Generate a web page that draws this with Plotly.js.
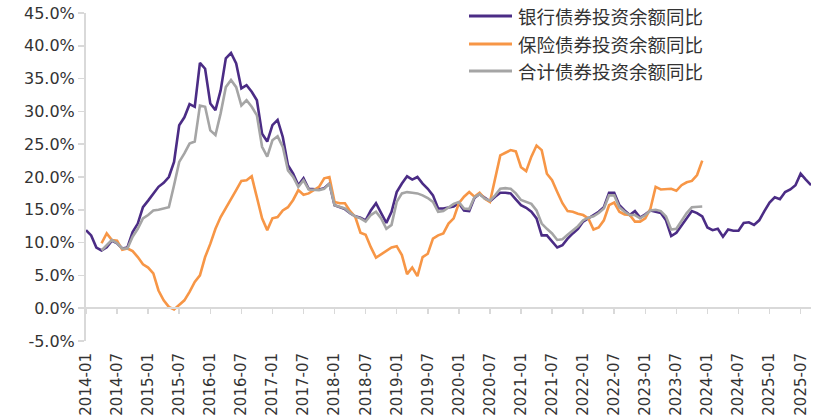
<!DOCTYPE html>
<html>
<head>
<meta charset="utf-8">
<script src="https://cdn.plot.ly/plotly-3.0.1.min.js"></script>
<style>
  html, body { margin: 0; padding: 0; background: #ffffff; }
  #chart { width: 834px; height: 419px; }
</style>
</head>
<body>
<div id="chart"></div>
<script>
// ---- Data ----
const firstMonth = [2014, 1];
const lastMonth = [2025, 9];

const seriesNames = ['银行债券投资余额同比', '保险债券投资余额同比', '合计债券投资余额同比'];

// Bank bond holdings YoY (%), 2014-01 .. 2025-09
const bankYoY = [
  11.9, 11.1, 9.25, 8.8, 9.3, 10.3, 9.9, 9.1, 9.25, 11.6, 12.9, 15.4,
  16.4, 17.5, 18.5, 19.1, 20.0, 22.3, 27.9, 29.1, 31.1, 30.7, 37.4, 36.5,
  31.2, 30.2, 33.2, 38.1, 38.9, 37.3, 33.5, 34.0, 33.0, 31.7, 26.6, 25.4,
  27.9, 28.7, 26.1, 21.8, 20.5, 18.75, 19.8, 18.2, 18.1, 18.1, 18.3, 19.0,
  15.7, 15.4, 15.1, 14.5, 14.0, 13.8, 13.4, 14.9, 16.0, 14.5, 13.0, 14.7,
  17.7, 19.0, 20.1, 19.6, 20.0, 19.0, 18.2, 17.2, 15.2, 15.2, 15.3, 15.5,
  16.0, 14.9, 14.8, 16.8, 17.4, 16.8, 16.3, 17.0, 17.6, 17.6, 17.5, 16.6,
  15.7, 15.3, 14.7, 13.7, 11.1, 11.1, 10.1, 9.25, 9.6, 10.6, 11.4, 12.1,
  13.2, 13.7, 14.2, 14.7, 15.4, 17.6, 17.6, 15.7, 14.9, 14.2, 14.8, 13.8,
  14.3, 14.9, 14.7, 14.5, 13.4, 11.0, 11.5, 12.7, 13.7, 14.8, 14.5, 14.0,
  12.3, 11.9, 12.1, 10.9, 12.0, 11.8, 11.8, 13.0, 13.1, 12.7, 13.4, 14.8,
  16.1, 16.9, 16.6, 17.7, 18.1, 18.75, 20.5, 19.6, 18.75
];

// Insurance bond holdings YoY (%), 2014-04 .. 2023-12
const insuranceStart = '2014-04';
const insuranceYoY = [
  9.9, 11.4, 10.4, 10.3, 8.9, 9.1, 8.7, 7.8, 6.7,
  6.2, 5.3, 2.7, 1.2, 0.2, -0.2, 0.5, 1.2, 2.5, 4.0, 5.0, 7.8,
  9.8, 12.1, 13.9, 15.2, 16.5, 18.0, 19.4, 19.5, 20.1, 17.0, 13.7, 11.9,
  13.7, 13.9, 14.9, 15.4, 16.5, 18.0, 17.3, 17.5, 18.0, 18.5, 19.8, 20.0,
  16.2, 16.0, 16.0, 14.8, 13.9, 11.5, 11.2, 9.3, 7.7, 8.2, 8.7, 9.25,
  9.45, 8.1, 5.2, 6.2, 4.9, 7.8, 8.3, 10.6, 11.1, 11.4, 12.9, 13.7,
  16.0, 17.0, 17.7, 17.0, 17.6, 16.7, 16.2, 20.0, 23.3, 23.7, 24.1, 23.9,
  21.5, 20.9, 23.1, 24.8, 24.1, 20.5, 19.5, 17.7, 16.0, 14.8, 14.7, 14.4,
  14.2, 13.7, 12.0, 12.3, 13.4, 15.7, 16.1, 14.7, 14.3, 14.2, 13.2, 13.2,
  13.7, 15.2, 18.5, 18.1, 18.1, 18.2, 17.9, 18.75, 19.2, 19.4, 20.3, 22.5
];

// Total bond holdings YoY (%), 2014-04 .. 2023-12
const totalStart = '2014-04';
const totalYoY = [
  8.8, 9.6, 10.4, 9.9, 9.1, 9.1, 10.9, 12.1, 13.7,
  14.2, 14.9, 15.0, 15.2, 15.4, 18.75, 22.3, 23.6, 25.1, 25.4, 30.9, 30.7,
  27.1, 26.4, 29.7, 33.7, 34.8, 33.7, 30.9, 31.7, 30.7, 29.4, 24.6, 23.1,
  25.6, 26.2, 24.6, 21.0, 20.0, 18.5, 19.5, 18.1, 18.0, 18.0, 18.2, 19.0,
  15.7, 15.5, 15.2, 14.5, 14.0, 13.7, 13.2, 14.2, 14.7, 13.7, 12.1, 12.7,
  16.2, 17.5, 17.7, 17.6, 17.5, 17.2, 16.8, 16.2, 14.7, 14.8, 15.3, 15.9,
  16.2, 15.2, 15.1, 16.9, 17.4, 16.7, 16.4, 17.2, 18.2, 18.3, 18.2, 17.5,
  16.5, 16.2, 15.9, 14.9, 12.9, 12.1, 11.4, 10.4, 10.5, 11.2, 11.9, 12.5,
  13.4, 13.8, 14.0, 14.5, 15.2, 17.2, 17.2, 15.4, 14.7, 14.2, 14.2, 13.7,
  14.2, 14.9, 15.0, 14.8, 14.0, 12.0, 12.1, 13.4, 14.5, 15.4, 15.4, 15.5
];

const yTicks = [-5, 0, 5, 10, 15, 20, 25, 30, 35, 40, 45];

// ---- Category axis (months) ----
const months = [];
for (let y = firstMonth[0], m = firstMonth[1]; y < lastMonth[0] || (y === lastMonth[0] && m <= lastMonth[1]); ) {
  months.push(y + '-' + String(m).padStart(2, '0'));
  m++; if (m > 12) { m = 1; y++; }
}
const insIdx = months.indexOf(insuranceStart);
const totIdx = months.indexOf(totalStart);

const colors = ['#4b2c85', '#f79646', '#a5a5a5'];
const axisGray = '#d9d9d9';
const textColor = '#333333';
const tickFont = { family: 'DejaVu Sans', size: 15, color: textColor };
const yTickFont = { family: 'DejaVu Sans', size: 16, color: textColor };

const traces = [
  { x: months, y: bankYoY, name: seriesNames[0], type: 'scatter', mode: 'lines',
    line: { color: colors[0], width: 2.6 } },
  { x: months.slice(insIdx, insIdx + insuranceYoY.length), y: insuranceYoY, name: seriesNames[1],
    type: 'scatter', mode: 'lines', line: { color: colors[1], width: 2.6 } },
  { x: months.slice(totIdx, totIdx + totalYoY.length), y: totalYoY, name: seriesNames[2],
    type: 'scatter', mode: 'lines', line: { color: colors[2], width: 2.6 } },
  // helper trace so the zero-crossing tick axis is drawn
  { x: [0, months.length - 1], y: [null, null], xaxis: 'x2', yaxis: 'y', type: 'scatter',
    mode: 'lines', showlegend: false, hoverinfo: 'skip' }
];

// ---- Legend drawn as shapes + text (top right) ----
const W = 834, H = 419, ML = 86, MR = 23, MT = 13, MB = 78;
const pw = W - ML - MR, ph = H - MT - MB;
const px = v => (v - ML) / pw;
const py = v => (H - MB - v) / ph;
const legendRows = [16, 44, 71];
const shapes = [], annotations = [];
seriesNames.forEach((name, i) => {
  shapes.push({ type: 'line', xref: 'paper', yref: 'paper',
    x0: px(469), x1: px(512), y0: py(legendRows[i]), y1: py(legendRows[i]),
    line: { color: colors[i], width: 2.8 } });
  annotations.push({ xref: 'paper', yref: 'paper', x: px(516), y: py(legendRows[i]),
    xanchor: 'left', yanchor: 'middle', showarrow: false, text: name,
    font: { family: 'Noto Sans CJK SC', size: 18.5, color: textColor } });
});

const layout = {
  width: W, height: H,
  margin: { l: ML, r: MR, t: MT, b: MB, pad: 0 },
  paper_bgcolor: '#ffffff', plot_bgcolor: '#ffffff',
  showlegend: false,
  shapes: shapes,
  annotations: annotations,
  xaxis: {
    type: 'category', range: [0, months.length - 1],
    tickmode: 'linear', tick0: 0, dtick: 6, tickangle: -90,
    ticks: '', showline: false, showgrid: false, zeroline: false,
    tickfont: tickFont, ticklabelstandoff: 8
  },
  xaxis2: {
    overlaying: 'x', anchor: 'free', position: 0.1, side: 'bottom',
    type: 'linear', range: [0, months.length - 1],
    tickmode: 'linear', tick0: 0, dtick: 6,
    showticklabels: false, ticks: 'outside', ticklen: 5, tickwidth: 1.5, tickcolor: axisGray,
    showline: true, linecolor: axisGray, linewidth: 2, showgrid: false, zeroline: false
  },
  yaxis: {
    range: [-5, 45], tickmode: 'array', tickvals: yTicks,
    ticktext: yTicks.map(v => v.toFixed(1) + '%'),
    showline: true, linecolor: axisGray, linewidth: 2,
    ticks: 'outside', ticklen: 6, tickwidth: 1.5, tickcolor: axisGray,
    showgrid: false, zeroline: false, tickfont: yTickFont
  }
};

Plotly.newPlot('chart', traces, layout, { displayModeBar: false, staticPlot: true });
</script>
</body>
</html>
